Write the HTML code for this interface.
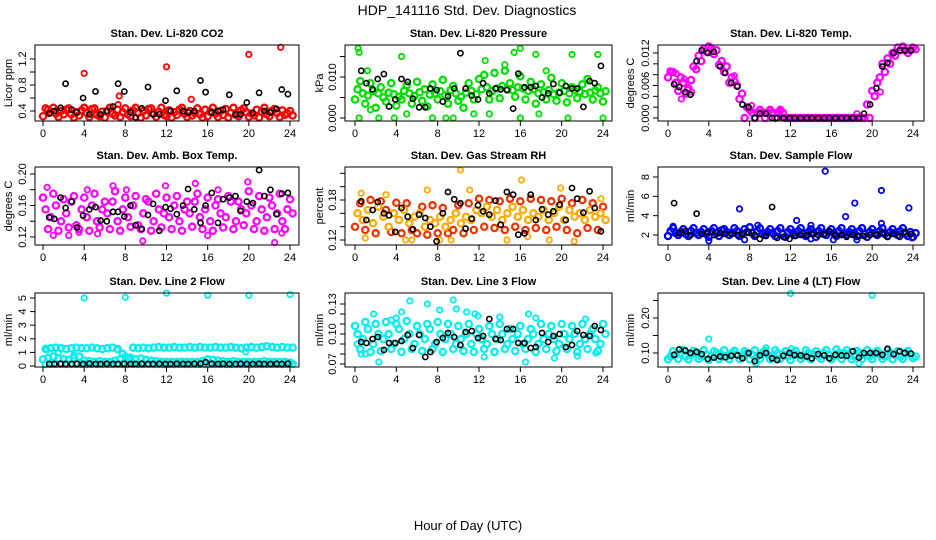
<!DOCTYPE html>
<html><head><meta charset="utf-8"><style>
html,body{margin:0;padding:0;background:#fff;}
svg{display:block;font-family:"Liberation Sans",sans-serif;}
</style></head><body>
<svg id="chart" width="936" height="540" viewBox="0 0 936 540">
<text x="467" y="15" font-size="14" text-anchor="middle">HDP_141116  Std. Dev. Diagnostics</text>
<text x="468" y="530" font-size="13" text-anchor="middle">Hour of Day (UTC)</text>
</svg>
<script>
// shared sampling hours
const hrs=[0,0.5,1,1.5,2,2.5,3,3.5,4,4.5,5,5.5,6,6.5,7,7.5,8,8.5,9,9.5,10,10.5,11,11.5,12,12.5,13,13.5,14,14.5,15,15.5,16,16.5,17,17.5,18,18.5,19,19.5,20,20.5,21,21.5,22,22.5,23,23.5,24];
const blkHours=[0.6,1.1,1.7,2.2,2.8,3.3,3.9,4.5,5.1,5.6,6.2,6.8,7.3,7.9,8.5,9.0,9.6,10.2,10.7,11.3,11.9,12.4,13.0,13.6,14.1,14.7,15.3,15.8,16.4,17.0,17.5,18.1,18.7,19.2,19.8,20.4,21.0,21.5,22.1,22.7,23.2,23.8];
const xTicks=[0,4,8,12,16,20,24];

// P1 CO2
const co2A=[0.44,0.38,0.36,0.4,0.42,0.35,0.38,0.41,0.37,0.43,0.34,0.39,0.4,0.36,0.42,0.38,0.35,0.41,0.37,0.4,0.43,0.36,0.39,0.34,0.41,0.38,0.42,0.36,0.4,0.37,0.35,0.42,0.39,0.36,0.4,0.43,0.37,0.34,0.41,0.38,0.36,0.42,0.39,0.35,0.4,0.37,0.41,0.36,0.33];
const co2B=[0.32,0.42,0.45,0.31,0.35,0.44,0.3,0.33,0.45,0.31,0.44,0.32,0.3,0.45,0.33,0.31,0.44,0.32,0.45,0.3,0.33,0.44,0.31,0.45,0.32,0.3,0.34,0.45,0.31,0.33,0.44,0.3,0.32,0.45,0.31,0.34,0.3,0.45,0.32,0.44,0.31,0.33,0.3,0.45,0.32,0.43,0.31,0.34,0.4];
const co2OutH=[4.0,7.4,7.3,12.0,14.4,20.0,23.1];
const co2OutV=[0.98,0.63,0.5,1.08,0.58,1.27,1.38];
const co2Blk=[0.36,0.4,0.45,0.82,0.42,0.38,0.6,0.35,0.7,0.35,0.4,0.47,0.82,0.7,0.38,0.3,0.44,0.77,0.35,0.35,0.56,0.4,0.71,0.4,0.38,0.4,0.87,0.69,0.38,0.4,0.42,0.65,0.35,0.35,0.53,0.37,0.68,0.4,0.38,0.43,0.73,0.66];
// P2 pressure
const presA=[0.007,0.006,0.0055,0.0065,0.006,0.005,0.0062,0.0058,0.0052,0.0066,0.006,0.0054,0.0063,0.007,0.0057,0.006,0.0065,0.0055,0.0068,0.006,0.0052,0.0062,0.0066,0.0058,0.007,0.0075,0.0065,0.0072,0.0078,0.007,0.0068,0.0075,0.0072,0.0066,0.007,0.006,0.0063,0.0068,0.0058,0.0062,0.0066,0.006,0.0068,0.0064,0.0058,0.0062,0.0067,0.006,0.0065];
const presB=[0.0045,0.009,0.0035,0.0085,0.0025,0.0075,0.004,0.0085,0.003,0.0045,0.008,0.0035,0.0088,0.0042,0.0028,0.0082,0.0045,0.0093,0.0035,0.0078,0.0042,0.0025,0.0085,0.0045,0.0095,0.0105,0.0045,0.011,0.0048,0.0115,0.0085,0.0052,0.0102,0.0045,0.0088,0.0035,0.0082,0.0045,0.0098,0.0042,0.0085,0.0038,0.0075,0.0048,0.0082,0.0095,0.0045,0.0075,0.004];
const presOutH=[0.3,0.4,4.5,15.4,16.0,17.5,21.0,23.5,12.6,0.4,1.5,3.8,7.5,8.8,9.5,16,20.6,24,2.3,5,11.5,13,17.8,1.2,14.5,18.5];
const presOutV=[0.017,0.016,0.015,0.016,0.017,0.0155,0.0155,0.0155,0.014,0,0.002,0,0,0,0,0,0,0,0,0.001,0.001,0.001,0.001,0.0115,0.013,0.0115];
const presBlk=[0.0115,0.0085,0.007,0.0095,0.0107,0.0028,0.0045,0.0095,0.0088,0.0047,0.0026,0.0026,0.0072,0.0068,0.004,0.0053,0.0072,0.0158,0.0072,0.0055,0.0045,0.0085,0.006,0.0072,0.007,0.0068,0.0023,0.0108,0.0075,0.0075,0.0078,0.005,0.006,0.0083,0.0062,0.0078,0.0072,0.0072,0.0027,0.009,0.0085,0.0127];
// P3 temp
const tmpA=[0.0085,0.0065,0.0075,0.0045,0.007,0.009,0.0105,0.0123,0.0128,0.0125,0.0105,0.0095,0.0075,0.006,0.0045,0.002,0.001,0.001,0.001,0.001,0.001,0.001,0.001,0,0,0,0,0,0,0,0,0,0,0,0,0,0,0,0,0,0.004,0.0075,0.0085,0.01,0.0115,0.0125,0.0125,0.0125,0.0127];
const tmpB=[0.0075,0.0085,0.005,0.0065,0.0055,0.0095,0.0115,0.0128,0.0132,0.0118,0.0098,0.0085,0.0065,0.0068,0.0035,0,0.0015,0,0.0015,0,0.0015,0,0.0015,0,0,0,0,0,0,0,0,0,0,0,0,0,0,0,0,0.0025,0.005,0.0065,0.01,0.011,0.012,0.013,0.0132,0.012,0.013];
const tmpOutH=[1.3,2.3,0.2,1.9,8.2,9.8,11.0,18.5,20.8,6.5,0.8,1.6];
const tmpOutV=[0.0035,0.0048,0.0087,0.0052,0.0023,0.0012,0.0012,0.0008,0.0048,0.0078,0.0082,0.0072];
const tmpBlk=[0.0062,0.0057,0.0048,0.0043,0.0105,0.0125,0.012,0.0122,0.0095,0.0083,0.0065,0.0058,0.0025,0.002,0,0.0008,0.0008,0,0,0,0,0,0,0,0,0,0,0,0,0,0,0,0,0.0008,0.0025,0.0055,0.0095,0.0102,0.012,0.0125,0.0125,0.0125];
// P4 amb box
const ambA=[0.155,0.145,0.16,0.14,0.15,0.165,0.135,0.155,0.145,0.16,0.14,0.155,0.15,0.165,0.14,0.155,0.145,0.16,0.135,0.15,0.165,0.14,0.155,0.15,0.145,0.16,0.14,0.155,0.15,0.165,0.145,0.155,0.14,0.16,0.15,0.145,0.165,0.14,0.155,0.15,0.16,0.14,0.155,0.145,0.16,0.15,0.14,0.155,0.15];
const ambB=[0.17,0.13,0.175,0.128,0.168,0.132,0.172,0.13,0.17,0.128,0.175,0.132,0.165,0.13,0.178,0.128,0.17,0.133,0.172,0.13,0.168,0.128,0.175,0.132,0.17,0.13,0.172,0.128,0.165,0.133,0.175,0.13,0.17,0.128,0.168,0.132,0.172,0.13,0.165,0.135,0.178,0.13,0.172,0.128,0.17,0.13,0.175,0.13,0.168];
const ambOutH=[0.4,1,2.5,3.5,4.3,5.3,6.8,9.7,11.9,14.8,16,17,19.9,22.5,23.2,8.1];
const ambOutV=[0.183,0.122,0.122,0.126,0.18,0.124,0.185,0.115,0.185,0.188,0.122,0.18,0.19,0.113,0.125,0.18];
const ambBlk=[0.145,0.143,0.17,0.157,0.165,0.132,0.147,0.155,0.158,0.141,0.14,0.152,0.152,0.146,0.16,0.135,0.13,0.148,0.162,0.128,0.158,0.156,0.149,0.16,0.181,0.155,0.138,0.16,0.176,0.138,0.168,0.17,0.172,0.153,0.165,0.163,0.205,0.172,0.18,0.149,0.175,0.176];
// P5 RH
const rhA=[0.16,0.15,0.165,0.145,0.17,0.155,0.14,0.16,0.15,0.165,0.145,0.155,0.16,0.14,0.15,0.145,0.155,0.14,0.15,0.16,0.145,0.155,0.15,0.165,0.16,0.17,0.155,0.165,0.15,0.16,0.17,0.155,0.165,0.15,0.16,0.155,0.165,0.15,0.16,0.17,0.15,0.165,0.155,0.16,0.15,0.165,0.155,0.16,0.15];
const rhB=[0.14,0.175,0.135,0.18,0.13,0.178,0.165,0.132,0.176,0.13,0.175,0.135,0.13,0.17,0.128,0.172,0.13,0.168,0.13,0.135,0.172,0.13,0.175,0.135,0.182,0.14,0.18,0.138,0.178,0.135,0.182,0.14,0.178,0.135,0.182,0.138,0.18,0.135,0.178,0.14,0.182,0.135,0.175,0.13,0.18,0.138,0.175,0.135,0.17];
const rhOutH=[0.6,1,3,4.9,5.5,7,8.2,9.3,10.2,11.1,14.7,16.1,16.7,18.8,19.9,21.2,23.8];
const rhOutV=[0.19,0.123,0.188,0.12,0.12,0.195,0.12,0.12,0.225,0.195,0.12,0.21,0.125,0.12,0.198,0.118,0.182];
const rhBlk=[0.178,0.15,0.165,0.177,0.16,0.157,0.132,0.168,0.155,0.136,0.158,0.153,0.14,0.118,0.16,0.192,0.181,0.175,0.137,0.152,0.172,0.163,0.158,0.179,0.143,0.192,0.188,0.128,0.13,0.188,0.15,0.166,0.158,0.163,0.173,0.15,0.198,0.182,0.161,0.193,0.168,0.133];
// P6 sample flow
const sfA=[2.4,2.2,2.3,2.1,2.4,2.2,2.3,2.1,2.4,2.2,2.5,2.3,2.2,2.4,2.1,2.3,2.2,2.4,2.1,2.3,2.2,2.4,2.1,2.3,2.2,2.4,2.1,2.3,2.2,2.4,2.1,2.3,2.2,2.4,2.1,2.3,2.2,2.4,2.1,2.3,2.2,2.4,2.1,2.3,2.2,2.4,2.1,2.3,2.2];
const sfB=[1.9,2.7,2.0,2.6,1.9,2.7,2.0,2.6,1.8,2.7,1.9,2.6,2.0,2.7,1.9,2.6,2.8,1.9,2.7,2.0,2.6,1.9,2.7,1.8,2.6,2.0,2.7,1.9,2.6,1.8,2.7,2.0,2.6,1.9,2.7,2.0,2.6,1.9,2.7,1.8,2.6,2.0,2.7,1.9,2.6,2.0,2.7,1.9,1.8];
const sfOutH=[0.5,4,7,7.5,8.8,12.6,14,14,15.4,16.2,17.4,18.3,18.5,20.9,20.9,23.6,23.9];
const sfOutV=[2.9,1.4,4.7,1.5,3.0,3.5,3.0,1.6,8.6,1.5,3.9,5.3,1.5,6.6,3.2,4.8,1.7];
const sfBlk=[5.3,2.2,2.4,2.0,4.2,2.1,2.3,2.0,2.2,2.1,2.1,2.0,2.1,2.3,2.0,1.6,1.9,4.9,1.7,1.8,1.6,1.9,2.0,2.0,2.1,2.0,2.1,2.4,2.0,2.0,1.8,2.0,1.9,1.9,2.0,2.0,2.2,1.8,2.1,1.8,2.3,2.1];
// P7 line 2 flow
const l2A=[1.25,1.3,1.35,1.3,1.25,1.3,1.35,1.3,1.3,1.35,1.3,1.25,1.3,1.35,1.25,0.9,0.6,1.35,1.3,1.35,1.3,1.35,1.4,1.35,1.35,1.4,1.35,1.35,1.4,1.35,1.4,1.35,1.35,1.4,1.35,1.35,1.4,1.35,1.3,1.35,1.4,1.35,1.4,1.45,1.4,1.35,1.4,1.35,1.35];
const l2B=[0.5,0.6,0.7,0.55,0.5,0.45,0.6,0.7,0.4,0.35,0.3,0.35,0.3,0.3,0.4,0.5,0.7,0.6,0.5,0.55,0.45,0.4,0.35,0.3,0.3,0.3,0.3,0.3,0.3,0.3,0.3,0.35,0.5,0.45,0.4,0.35,0.3,0.35,0.3,0.3,0.3,0.3,0.3,0.35,0.3,0.3,0.3,0.3,0.25];
const l2C=[0.15,0.15,0.15,0.15,0.15,0.15,0.15,0.15,0.15,0.15,0.15,0.15,0.15,0.15,0.15,0.15,0.15,0.15,0.15,0.15,0.15,0.15,0.15,0.15,0.15,0.15,0.15,0.15,0.15,0.15,0.15,0.15,0.15,0.15,0.15,0.15,0.15,0.15,0.15,0.15,0.15,0.15,0.15,0.15,0.15,0.15,0.15,0.15,0.15];
const l2OutH=[4,8,12,16,20,24,1.5,3,7.2,19.7,0.4];
const l2OutV=[5.0,5.05,5.35,5.2,5.2,5.25,1.0,0.8,1.2,1.05,1.2];
const l2Blk=[0.15,0.15,0.16,0.15,0.15,0.16,0.15,0.18,0.15,0.15,0.16,0.15,0.15,0.16,0.15,0.15,0.16,0.15,0.15,0.16,0.15,0.15,0.16,0.15,0.15,0.16,0.18,0.28,0.16,0.15,0.16,0.15,0.15,0.16,0.15,0.15,0.16,0.15,0.15,0.16,0.15,0.17];
// P8 line 3 flow
const l3A=[0.1,0.095,0.105,0.09,0.1,0.095,0.1,0.09,0.105,0.095,0.1,0.09,0.1,0.095,0.105,0.09,0.1,0.095,0.1,0.09,0.095,0.1,0.09,0.1,0.095,0.09,0.1,0.095,0.1,0.09,0.095,0.1,0.09,0.095,0.1,0.09,0.095,0.1,0.095,0.09,0.1,0.095,0.1,0.09,0.095,0.1,0.095,0.09,0.1];
const l3B=[0.108,0.085,0.112,0.082,0.11,0.083,0.112,0.085,0.11,0.082,0.113,0.085,0.108,0.083,0.11,0.085,0.112,0.082,0.11,0.085,0.108,0.083,0.11,0.082,0.105,0.085,0.108,0.082,0.11,0.085,0.105,0.083,0.108,0.085,0.105,0.082,0.11,0.085,0.108,0.083,0.11,0.085,0.108,0.082,0.11,0.085,0.105,0.083,0.11];
const l3OutH=[0.2,0.6,1,2.3,3.5,4,5.3,7,8.2,9.5,9.8,10.8,11.6,11.9,12.5,16.5,16.8,17.5,19.3,21.5,22.3,23.3,14,4.5,1.8];
const l3OutV=[0.09,0.08,0.08,0.072,0.114,0.116,0.133,0.13,0.124,0.134,0.125,0.122,0.12,0.118,0.077,0.072,0.12,0.116,0.076,0.078,0.115,0.081,0.117,0.122,0.12];
const l3Blk=[0.092,0.091,0.095,0.097,0.084,0.091,0.091,0.093,0.099,0.086,0.099,0.077,0.082,0.092,0.096,0.101,0.097,0.089,0.102,0.103,0.096,0.098,0.115,0.095,0.094,0.105,0.105,0.091,0.091,0.086,0.087,0.101,0.092,0.098,0.1,0.087,0.089,0.103,0.099,0.098,0.108,0.104];
// P9 line 4 flow
const l4A=[0.09,0.095,0.1,0.09,0.095,0.1,0.09,0.095,0.09,0.1,0.095,0.09,0.1,0.095,0.09,0.1,0.095,0.09,0.1,0.095,0.09,0.1,0.095,0.09,0.1,0.095,0.09,0.1,0.095,0.09,0.1,0.095,0.09,0.1,0.1,0.095,0.09,0.1,0.095,0.09,0.1,0.095,0.09,0.1,0.095,0.09,0.1,0.095,0.09];
const l4B=[0.082,0.105,0.083,0.108,0.082,0.106,0.083,0.108,0.08,0.105,0.083,0.108,0.082,0.106,0.083,0.105,0.082,0.108,0.083,0.106,0.082,0.108,0.083,0.105,0.08,0.106,0.083,0.108,0.082,0.105,0.083,0.108,0.082,0.11,0.083,0.108,0.082,0.106,0.083,0.108,0.082,0.106,0.083,0.108,0.082,0.105,0.083,0.106,0.085];
const l4OutH=[4,12,20,8.6,18.7,9.6,12.1];
const l4OutV=[0.14,0.27,0.265,0.07,0.07,0.115,0.112];
const l4Blk=[0.095,0.11,0.107,0.1,0.103,0.097,0.083,0.087,0.09,0.088,0.092,0.093,0.085,0.1,0.077,0.093,0.1,0.085,0.08,0.092,0.1,0.094,0.093,0.09,0.085,0.097,0.093,0.085,0.095,0.093,0.092,0.105,0.087,0.1,0.1,0.1,0.095,0.112,0.097,0.105,0.1,0.098];

const NS='http://www.w3.org/2000/svg';
const svg=document.getElementById('chart');
const cols=[{l:35,r:299,x0:43,x24:290,yl:12},{l:345,r:612,x0:355,x24:603,yl:323},{l:658,r:924,x0:668,x24:913,yl:634}];
const rows=[{t:45,b:121},{t:167,b:245},{t:293,b:367}];

const panels=[
 {id:'co2',title:'Stan. Dev. Li-820 CO2',ylab:'Licor ppm',c:0,r:0,v1:0.4,p1:111,v2:1.2,p2:59,ticks:[0.4,0.6,0.8,1.0,1.2],tl:['0.4','','0.8','','1.2'],col:'#ff0000',A:co2A,B:co2B,oh:co2OutH,ov:co2OutV,blk:co2Blk},
 {id:'pressure',title:'Stan. Dev. Li-820 Pressure',ylab:'kPa',c:1,r:0,v1:0,p1:118,v2:0.01,p2:77,ticks:[0,0.005,0.01,0.015],tl:['0.000','','0.010',''],col:'#00dd00',A:presA,B:presB,oh:presOutH,ov:presOutV,blk:presBlk},
 {id:'temp',title:'Stan. Dev. Li-820 Temp.',ylab:'degrees C',c:2,r:0,v1:0,p1:118,v2:0.012,p2:53,ticks:[0,0.002,0.004,0.006,0.008,0.01,0.012],tl:['0.000','','','0.006','','','0.012'],col:'#ff00ff',A:tmpA,B:tmpB,oh:tmpOutH,ov:tmpOutV,blk:tmpBlk},
 {id:'amb-box',title:'Stan. Dev. Amb. Box Temp.',ylab:'degrees C',c:0,r:1,v1:0.12,p1:237,v2:0.20,p2:174,ticks:[0.12,0.14,0.16,0.18,0.20],tl:['0.12','','0.16','','0.20'],col:'#ff00ff',A:ambA,B:ambB,oh:ambOutH,ov:ambOutV,blk:ambBlk},
 {id:'rh',title:'Stan. Dev. Gas Stream RH',ylab:'percent',c:1,r:1,v1:0.12,p1:240,v2:0.18,p2:200,ticks:[0.12,0.14,0.16,0.18,0.20,0.22],tl:['0.12','','','0.18','',''],col:'#ffaa00',colB:'#ee3300',A:rhA,B:rhB,oh:rhOutH,ov:rhOutV,blk:rhBlk},
 {id:'sample-flow',title:'Stan. Dev. Sample Flow',ylab:'ml/min',c:2,r:1,v1:2,p1:235,v2:8,p2:177,ticks:[2,4,6,8],tl:['2','4','6','8'],col:'#0000ff',A:sfA,B:sfB,oh:sfOutH,ov:sfOutV,blk:sfBlk},
 {id:'line2',title:'Stan. Dev. Line 2 Flow',ylab:'ml/min',c:0,r:2,v1:0,p1:366,v2:5,p2:298,ticks:[0,1,2,3,4,5],tl:['0','1','2','3','4','5'],col:'#00eeee',A:l2A,B:l2B,C:l2C,oh:l2OutH,ov:l2OutV,blk:l2Blk},
 {id:'line3',title:'Stan. Dev. Line 3 Flow',ylab:'ml/min',c:1,r:2,v1:0.07,p1:364,v2:0.13,p2:304,ticks:[0.07,0.08,0.09,0.10,0.11,0.12,0.13],tl:['0.07','','','0.10','','','0.13'],col:'#00eeee',A:l3A,B:l3B,oh:l3OutH,ov:l3OutV,blk:l3Blk},
 {id:'line4',title:'Stan. Dev. Line 4 (LT) Flow',ylab:'ml/min',c:2,r:2,v1:0.10,p1:353,v2:0.20,p2:318,ticks:[0.10,0.15,0.20,0.25],tl:['0.10','','0.20',''],col:'#00eeee',A:l4A,B:l4B,oh:l4OutH,ov:l4OutV,blk:l4Blk}
];

function mk(tag,attrs,parent){const e=document.createElementNS(NS,tag);for(const k in attrs)e.setAttribute(k,attrs[k]);(parent||svg).appendChild(e);return e;}

panels.forEach(p=>{
  const C=cols[p.c],R=rows[p.r];
  const xs=h=>C.x0+(h/24)*(C.x24-C.x0);
  const ys=v=>p.p1+(v-p.v1)*(p.p2-p.p1)/(p.v2-p.v1);
  const g=mk('g',{});
  
  
  const t=mk('text',{x:(C.l+C.r)/2,y:R.t-8,'font-size':11,'font-weight':'bold','text-anchor':'middle'},g);
  t.textContent=p.title;
  
  
  const yl=mk('text',{x:C.yl,y:(R.t+R.b)/2,'font-size':11,'text-anchor':'middle',transform:'rotate(-90 '+C.yl+' '+((R.t+R.b)/2)+')'},g);
  yl.textContent=p.ylab;
  
  
  const pts=mk('g',{fill:'none'},g);
  
  
  const dot=(h,v,col,r,sw)=>{const c=mk('circle',{cx:xs(h).toFixed(1),cy:ys(v).toFixed(1),r:r,stroke:col,'stroke-width':sw},pts);
    
    };
  hrs.forEach((h,i)=>dot(h,p.B[i],p.colB||p.col,3.1,2.3));
  hrs.forEach((h,i)=>dot(h+0.25,p.A[i],p.col,3.1,2.3));
  if(p.C) hrs.forEach((h,i)=>dot(h+0.25,p.C[i],p.col,3.1,2.3));
  p.oh.forEach((h,i)=>dot(h,p.ov[i],p.col,2.7,1.8));
  blkHours.forEach((h,i)=>dot(h,p.blk[i],'#000',2.6,1.6));
  const box=mk('rect',{x:C.l,y:R.t,width:C.r-C.l,height:R.b-R.t,fill:'none',stroke:'#000','stroke-width':1},g);
  
  
  xTicks.forEach(h=>{
    const x=xs(h);
    mk('line',{x1:x,x2:x,y1:R.b,y2:R.b+5,stroke:'#000'},g);
    const tx=mk('text',{x:x,y:R.b+16,'font-size':11,'text-anchor':'middle'},g);
    tx.textContent=h;
    
    
  });
  p.ticks.forEach((v,i)=>{
    const y=ys(v);
    mk('line',{x1:C.l-5,x2:C.l,y1:y,y2:y,stroke:'#000'},g);
    if(p.tl[i]){
      const xx=C.l-9;
      const ty=mk('text',{x:xx,y:y,'font-size':11,'text-anchor':'middle',transform:'rotate(-90 '+xx+' '+y+')'},g);
      ty.textContent=p.tl[i];
      
      
    }
  });
});
</script>
</body></html>
